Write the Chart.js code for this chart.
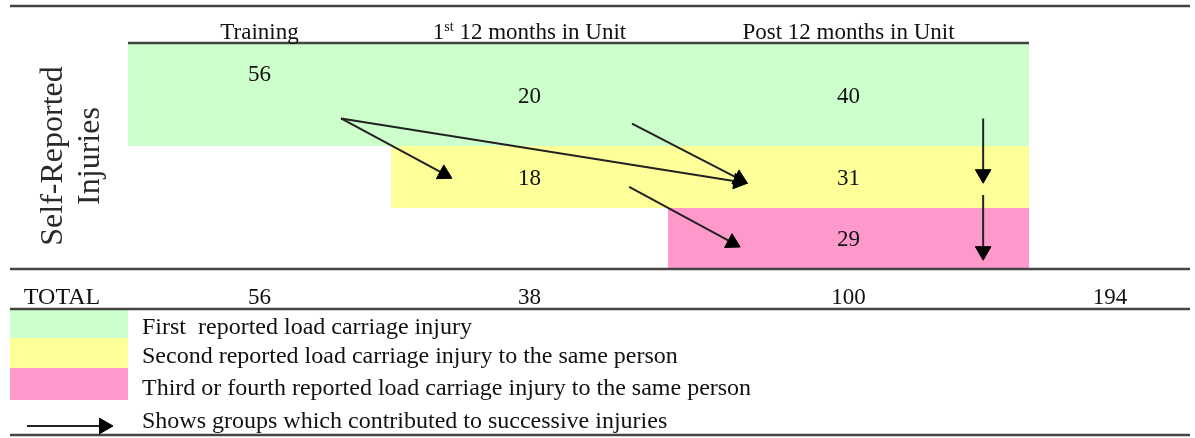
<!DOCTYPE html>
<html lang="en">
  <head>
    <meta charset="UTF-8" />
    <title>Load carriage injuries</title>
    <script src="https://cdn.jsdelivr.net/npm/chart.js"></script>
    <style>
      html, body { margin: 0; padding: 0; background: #fff; }
      #wrap { width: 1195px; height: 438px; }
    </style>
  </head>
  <body>
    <div id="wrap"><canvas id="injuryChart" width="1195" height="438"></canvas></div>

    <script>
      // values
      var periods = ["Training", "1st 12 months in Unit", "Post 12 months in Unit"];
      var groups = [
        "First  reported load carriage injury",
        "Second reported load carriage injury to the same person",
        "Third or fourth reported load carriage injury to the same person",
      ];
      var firstInjury = [56, 20, 40];
      var secondInjury = [null, 18, 31];
      var thirdInjury = [null, null, 29];
      var totals = [56, 38, 100];
      var grandTotal = 194;
      var totalLabel = "TOTAL";
      var axisTitle = ["Self-Reported", "Injuries"];
      var arrowNote = "Shows groups which contributed to successive injuries";
      // arrows: [fromGroup, fromPeriod, toGroup, toPeriod]
      var flows = [
        [0, 0, 1, 1],
        [0, 0, 1, 2],
        [0, 1, 1, 2],
        [1, 1, 2, 2],
        [0, 2, 1, 2],
        [1, 2, 2, 2],
      ];

      var series = [firstInjury, secondInjury, thirdInjury];
      var groupColors = ["#ccffcc", "#ffff99", "#ff99cc"];

      // layout (the axes are in canvas pixels, y pointing down)
      var W = 1195, H = 438;
      var colEdges = [128, 391, 668, 1029];
      var rowEdges = [44, 146, 208, 268];
      var ruleLeft = 10, ruleRight = 1190;
      var fullRules = [6, 269, 309, 435];
      var headerY = 31, totalY = 296, totalLabelX = 62, grandTotalX = 1110;
      var swatchLeft = 10, swatchRight = 128;
      var swatchEdges = [310, 338, 368, 400];
      var legendTextX = 142;
      var legendTextY = [326, 355, 387, 420];
      var legendArrow = [27, 426, 113, 426];
      var titleX = [52, 89];
      var textNudge = 2; // serif glyphs sit a little high with "middle"
      var labelYFrac = [[0.28, 0.5, 0.5], [0.5, 0.5, 0.5], [0.5, 0.5, 0.5]];
      // where each arrow leaves / enters its cell, as fractions of the cell
      var flowAnchors = [
        [0.81, 0.73, 0.22, 0.52],
        [0.81, 0.73, 0.22, 0.6],
        [0.87, 0.78, 0.22, 0.6],
        [0.86, 0.66, 0.2, 0.65],
        [0.873, 0.73, 0.873, 0.6],
        [0.873, 0.79, 0.873, 0.87],
      ];
      var headSize = 9;
      var serif = "'Liberation Serif', 'Times New Roman', serif";
      var ink = "#111";
      var cellFont = "23px " + serif;
      var supFont = "14px " + serif;
      var legendFont = "24px " + serif;
      var titleFont = "32px " + serif;

      function cellPoint(g, p, fx, fy) {
        return {
          x: colEdges[p] + fx * (colEdges[p + 1] - colEdges[p]),
          y: rowEdges[g] + fy * (rowEdges[g + 1] - rowEdges[g]),
        };
      }

      function arrowDataset(from, tip) {
        var dx = tip.x - from.x, dy = tip.y - from.y;
        var len = Math.sqrt(dx * dx + dy * dy);
        var c = { x: tip.x - (dx / len) * headSize, y: tip.y - (dy / len) * headSize };
        var deg = (Math.atan2(dx, -dy) * 180) / Math.PI;
        return {
          data: [from, c],
          showLine: true,
          borderColor: "#222",
          borderWidth: 2,
          pointRadius: [0, headSize],
          pointStyle: "triangle",
          rotation: [0, deg],
          pointBackgroundColor: "#000",
          pointBorderColor: "#000",
          pointBorderWidth: 1,
          order: 1,
        };
      }

      function boxDataset(x0, x1, top, bottom, color) {
        return {
          data: [{ x: x0, y: top }, { x: x1, y: top }],
          showLine: true,
          fill: { value: bottom },
          backgroundColor: color,
          borderWidth: 0,
          borderColor: "rgba(0,0,0,0)",
          pointRadius: 0,
          order: 3,
        };
      }

      function ruleDataset(x0, x1, yv) {
        return {
          data: [{ x: x0, y: yv }, { x: x1, y: yv }],
          showLine: true,
          borderColor: "#444",
          borderWidth: 2.5,
          pointRadius: 0,
          order: 2,
        };
      }

      var datasets = [];
      // group boxes: each group runs from its first reported period to the end
      series.forEach(function (vals, g) {
        var start = vals.findIndex(function (v) { return v !== null; });
        datasets.push(boxDataset(colEdges[start], colEdges[periods.length], rowEdges[g], rowEdges[g + 1], groupColors[g]));
      });
      // legend swatches
      groups.forEach(function (name, g) {
        datasets.push(boxDataset(swatchLeft, swatchRight, swatchEdges[g], swatchEdges[g + 1], groupColors[g]));
      });
      fullRules.forEach(function (yv) { datasets.push(ruleDataset(ruleLeft, ruleRight, yv)); });
      datasets.push(ruleDataset(colEdges[0], colEdges[periods.length], rowEdges[0] - 1));
      flows.forEach(function (f, i) {
        var a = flowAnchors[i];
        datasets.push(arrowDataset(cellPoint(f[0], f[1], a[0], a[1]), cellPoint(f[2], f[3], a[2], a[3])));
      });
      datasets.push(arrowDataset({ x: legendArrow[0], y: legendArrow[1] }, { x: legendArrow[2], y: legendArrow[3] }));

      var tableText = {
        id: "tableText",
        afterDatasetsDraw: function (chart) {
          var ctx = chart.ctx, xs = chart.scales.x, ys = chart.scales.y;
          ctx.save();
          ctx.fillStyle = ink;
          ctx.textBaseline = "middle";
          ctx.textAlign = "center";

          function colCenter(p) { return xs.getPixelForValue((colEdges[p] + colEdges[p + 1]) / 2); }
          function yPix(v) { return ys.getPixelForValue(v) + textNudge; }

          // column headers, with the superscript on "1st"
          periods.forEach(function (name, p) {
            var cx = colCenter(p), cy = yPix(headerY);
            ctx.font = cellFont;
            var m = name.match(/^(\d+)(st|nd|rd|th)(.*)$/);
            if (!m) { ctx.fillText(name, cx, cy); return; }
            var w1 = ctx.measureText(m[1]).width, w3 = ctx.measureText(m[3]).width;
            ctx.font = supFont;
            var w2 = ctx.measureText(m[2]).width;
            var x0 = cx - (w1 + w2 + w3) / 2;
            ctx.textAlign = "left";
            ctx.font = cellFont;
            ctx.fillText(m[1], x0, cy);
            ctx.font = supFont;
            ctx.fillText(m[2], x0 + w1, cy - 6);
            ctx.font = cellFont;
            ctx.fillText(m[3], x0 + w1 + w2, cy);
            ctx.textAlign = "center";
          });

          // counts in each cell
          ctx.font = cellFont;
          series.forEach(function (vals, g) {
            vals.forEach(function (v, p) {
              if (v === null) return;
              var pt = cellPoint(g, p, 0.5, labelYFrac[g][p]);
              ctx.fillText(String(v), xs.getPixelForValue(pt.x), yPix(pt.y));
            });
          });

          // totals row
          var ty = yPix(totalY);
          ctx.font = legendFont;
          ctx.fillText(totalLabel, xs.getPixelForValue(totalLabelX), ty);
          ctx.font = cellFont;
          totals.forEach(function (v, p) { ctx.fillText(String(v), colCenter(p), ty); });
          ctx.fillText(String(grandTotal), xs.getPixelForValue(grandTotalX), ty);

          // legend text
          ctx.textAlign = "left";
          ctx.font = legendFont;
          groups.concat([arrowNote]).forEach(function (t, i) {
            ctx.fillText(t, xs.getPixelForValue(legendTextX), yPix(legendTextY[i]));
          });

          // rotated row title
          ctx.textAlign = "center";
          ctx.font = titleFont;
          ctx.fillStyle = "#2a2a2a";
          var my = ys.getPixelForValue((rowEdges[0] + rowEdges[rowEdges.length - 1]) / 2);
          axisTitle.forEach(function (t, i) {
            ctx.save();
            ctx.translate(xs.getPixelForValue(titleX[i]) + textNudge, my);
            ctx.rotate(-Math.PI / 2);
            ctx.fillText(t, 0, 0);
            ctx.restore();
          });
          ctx.restore();
        },
      };

      var chart = new Chart(document.getElementById("injuryChart"), {
        type: "scatter",
        data: { datasets: datasets },
        options: {
          responsive: false,
          animation: false,
          layout: { padding: 0, autoPadding: false },
          plugins: { legend: { display: false }, tooltip: { enabled: false } },
          scales: {
            x: { type: "linear", min: 0, max: W, display: false },
            y: { type: "linear", min: 0, max: H, reverse: true, display: false },
          },
        },
        plugins: [tableText],
      });
    </script>
  </body>
</html>
